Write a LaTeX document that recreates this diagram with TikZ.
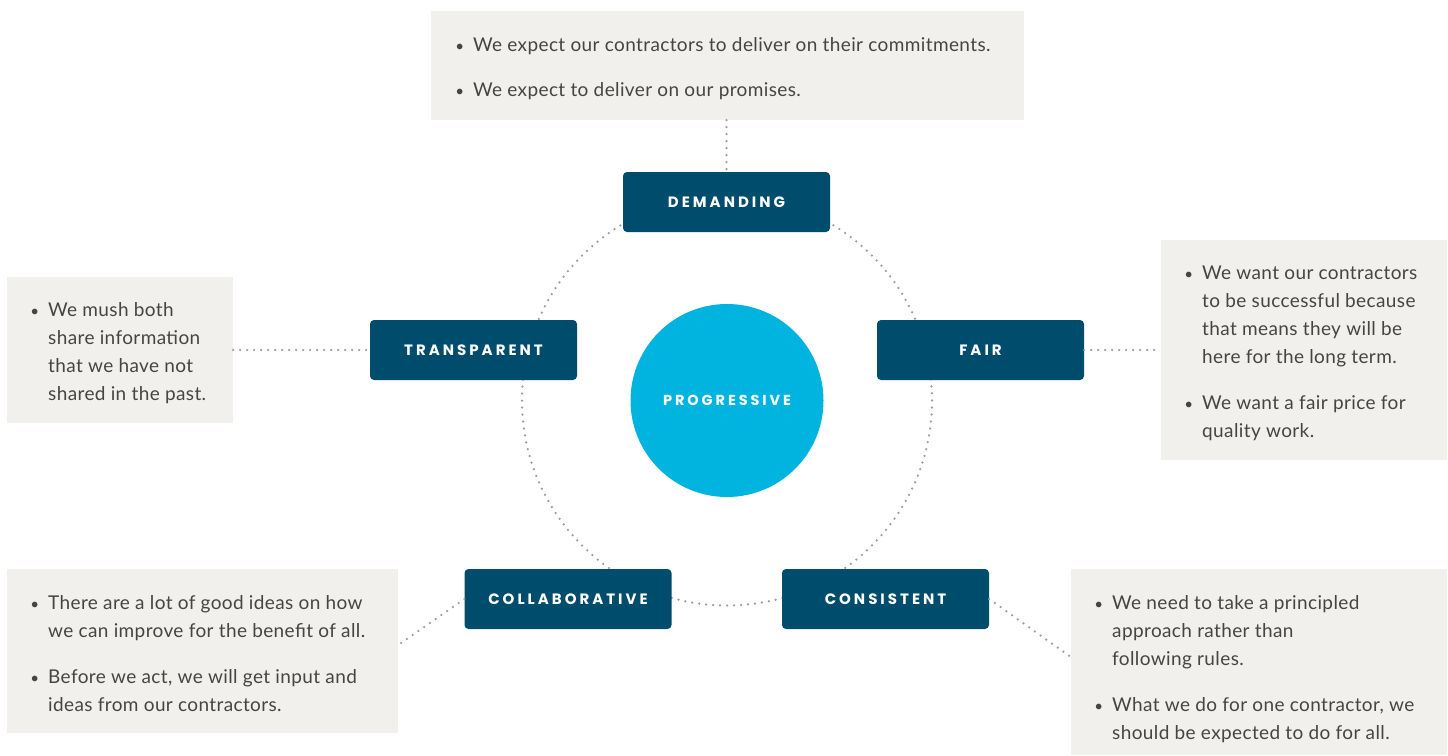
\documentclass[tikz,border=0pt]{standalone}
\usepackage{fontspec}
\setmainfont{Lato}[LetterSpace=2]
\newfontfamily\labelfont[LetterSpace=20]{Poppins}
\usetikzlibrary{positioning}
\definecolor{navy}{HTML}{004C6C}
\definecolor{sky}{HTML}{00B4DF}
\definecolor{paper}{HTML}{F1F0EC}
\definecolor{ink}{HTML}{454545}
\definecolor{dotgray}{HTML}{9C9C9C}
\newcommand{\bul}{\llap{\scalebox{0.8}{\textbullet}\hspace{9pt}}}

\begin{document}
\begin{tikzpicture}[x=1pt,y=-1pt]
\tikzset{tag/.style={fill=navy,rounded corners=4pt,minimum width=207,minimum height=60,inner sep=0,text=white,font=\labelfont\bfseries\fontsize{15}{15}\selectfont}}
\tikzset{panel/.style={fill=paper,inner sep=0}}
\tikzset{note/.style={anchor=north west,inner sep=0,align=left,text=ink,font=\fontsize{19}{28}\selectfont}}
\tikzset{dotline/.style={draw=dotgray,line width=2.5pt,line cap=round,dash pattern=on 0pt off 7pt}}

\useasboundingbox (0,0) rectangle (1448,755);

\coordinate (hub) at (727,400.5);
\draw[dotline] (hub) circle[radius=205];

% grey panels
\node[panel,minimum width=593,minimum height=109] (demnote) at (727.5,65.5) {};
\node[panel,minimum width=226,minimum height=146] (transnote) at (120,350) {};
\node[panel,minimum width=286,minimum height=220] (fairnote) at (1304,350) {};
\node[panel,minimum width=391,minimum height=164] (collabnote) at (202.5,651) {};
\node[panel,minimum width=376,minimum height=186] (consnote) at (1259,662) {};

\node[note] at (473,37) {\bul We expect our contractors to deliver on their commitments.\\[17pt]
  \bul We expect to deliver on our promises.};
\node[note] at (48,302) {\bul We mush both\\ share information\\ that we have not\\ shared in the past.};
\node[note] at (1202,266) {\bul We want our contractors\\ to be successful because\\ that means they will be\\ here for the long term.\\[18pt]
  \bul We want a fair price for\\ quality work.};
\node[note] at (48,595) {\bul There are a lot of good ideas on how\\ we can improve for the benefit of all.\\[18pt]
  \bul Before we act, we will get input and\\ ideas from our contractors.};
\node[note] at (1112,595) {\bul We need to take a principled\\ approach rather than\\ following rules.\\[18pt]
  \bul What we do for one contractor, we\\ should be expected to do for all.};

% values
\node[circle,fill=sky,minimum size=193,inner sep=0,text=white,font=\labelfont\bfseries\fontsize{14.5}{14.5}\selectfont] (progressive) at (hub) {PROGRESSIVE};
\node[tag] (demanding) at (726.5,202) {DEMANDING};
\node[tag] (transparent) at (473.5,350) {TRANSPARENT};
\node[tag] (fair) at (980.5,350) {FAIR};
\node[tag] (collaborative) at (568,599) {COLLABORATIVE};
\node[tag] (consistent) at (885.5,599) {CONSISTENT};

\draw[dotline] (demanding.north |- demnote.south) -- (demanding.north);
\draw[dotline] (transnote.east |- transparent.west) -- (transparent.west);
\draw[dotline] (fair.east) -- (fairnote.west |- fair.east);
\draw[dotline] (collaborative.west) -- ([yshift=6]collabnote.east);
\draw[dotline] (consistent.east) -- ([yshift=5]consnote.west);

\end{tikzpicture}
\end{document}
